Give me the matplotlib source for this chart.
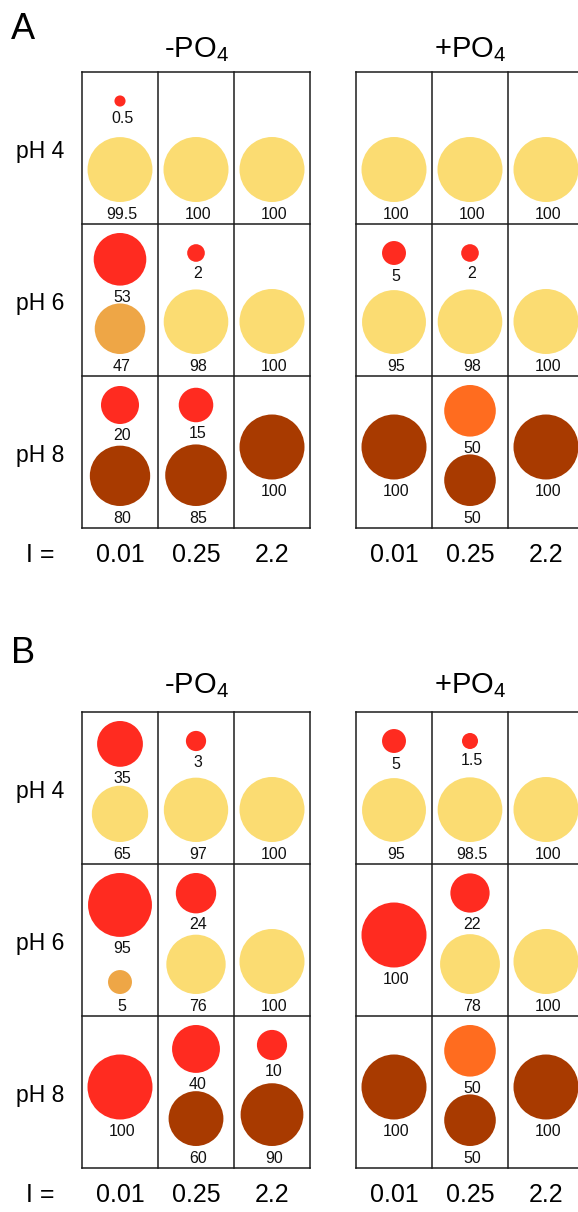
import matplotlib
matplotlib.use('Agg')
from matplotlib import pyplot as plt
from matplotlib.patches import Circle

plt.rcParams['font.family'] = ['Liberation Sans', 'DejaVu Sans']
plt.rcParams['mathtext.fontset'] = 'custom'
plt.rcParams['mathtext.rm'] = 'Liberation Sans'

# --- data -------------------------------------------------------------
ionic = ['0.01', '0.25', '2.2']
ph_rows = ['pH 4', 'pH 6', 'pH 8']
titles = ['-PO$_\\mathregular{4}$', '+PO$_\\mathregular{4}$']

# species colour codes
colours = {'Y': '#fbdc72', 'R': '#ff2b20', 'O': '#eea646',
           'F': '#ff6c1f', 'B': '#a83a00'}

# each cell: list of (percent, species), rows pH 4/6/8, cols I = 0.01/0.25/2.2
a_minus = [[[(0.5, 'R'), (99.5, 'Y')], [(100, 'Y')], [(100, 'Y')]],
           [[(53, 'R'), (47, 'O')], [(2, 'R'), (98, 'Y')], [(100, 'Y')]],
           [[(20, 'R'), (80, 'B')], [(15, 'R'), (85, 'B')], [(100, 'B')]]]
a_plus = [[[(100, 'Y')], [(100, 'Y')], [(100, 'Y')]],
          [[(5, 'R'), (95, 'Y')], [(2, 'R'), (98, 'Y')], [(100, 'Y')]],
          [[(100, 'B')], [(50, 'F'), (50, 'B')], [(100, 'B')]]]
b_minus = [[[(35, 'R'), (65, 'Y')], [(3, 'R'), (97, 'Y')], [(100, 'Y')]],
           [[(95, 'R'), (5, 'O')], [(24, 'R'), (76, 'Y')], [(100, 'Y')]],
           [[(100, 'R')], [(40, 'R'), (60, 'B')], [(10, 'R'), (90, 'B')]]]
b_plus = [[[(5, 'R'), (95, 'Y')], [(1.5, 'R'), (98.5, 'Y')], [(100, 'Y')]],
          [[(100, 'R')], [(22, 'R'), (78, 'Y')], [(100, 'Y')]],
          [[(100, 'B')], [(50, 'F'), (50, 'B')], [(100, 'B')]]]

# --- layout (pixels) --------------------------------------------------
W, H = 578, 1212
grid_left = [82, 356]
col_w = 76
row_h = 152
line_c = '#1c1c1c'


def radius(v):
    # circle diameter grows with cube root of the percentage
    return 32.5 * (v / 100.0) ** (1.0 / 3.0)


def label(ax, x, y, v):
    ax.text(x + 2, y + 6, '{:g}'.format(v), ha='center', va='baseline',
            fontsize=11.5, color='#111111')


def draw_cell(ax, items, cx, top):
    if len(items) == 1:
        v, sp = items[0]
        r = radius(v)
        if sp == 'Y':
            cy = top + 130 - r
            ly = cy + r + 11
        else:
            cy = top + 71
            ly = cy + r + 10
        ax.add_patch(Circle((cx, cy), r, color=colours[sp], lw=0))
        label(ax, cx, ly, v)
        return
    (v1, s1), (v2, s2) = items
    r1 = radius(v1)
    cy1 = top + max(29, r1 + 9)
    ax.add_patch(Circle((cx, cy1), r1, color=colours[s1], lw=0))
    label(ax, cx, cy1 + r1 + 10, v1)
    r2 = radius(v2)
    cy2 = top + 130 - r2
    ax.add_patch(Circle((cx, cy2), r2, color=colours[s2], lw=0))
    label(ax, cx, cy2 + r2 + 11, v2)


def draw_block(ax, cells, x0, y0):
    for i in range(4):
        ax.plot([x0 + i * col_w] * 2, [y0, y0 + 3 * row_h], color=line_c, lw=1.1)
        ax.plot([x0, x0 + 3 * col_w], [y0 + i * row_h] * 2, color=line_c, lw=1.1)
    for r in range(3):
        for c in range(3):
            draw_cell(ax, cells[r][c], x0 + (c + 0.5) * col_w, y0 + r * row_h)


fig = plt.figure(figsize=(W / 100, H / 100), dpi=100)
ax = fig.add_axes([0, 0, 1, 1])
ax.set_xlim(0, W)
ax.set_ylim(H, 0)
ax.axis('off')

# letter, blocks, grid top, letter baseline, title baseline
panels = [('A', [a_minus, a_plus], 72, 39, 57),
          ('B', [b_minus, b_plus], 712, 663, 693)]

for letter, blocks, top, let_y, tit_y in panels:
    ax.text(11, let_y, letter, fontsize=26, va='baseline', ha='left')
    for k, cells in enumerate(blocks):
        x0 = grid_left[k]
        draw_block(ax, cells, x0, top)
        ax.text(x0 + 1.5 * col_w, tit_y, titles[k], fontsize=21,
                ha='center', va='baseline')
        for c, lab in enumerate(ionic):
            ax.text(x0 + (c + 0.5) * col_w, top + 3 * row_h + 34, lab,
                    fontsize=18, ha='center', va='baseline')
    for r, lab in enumerate(ph_rows):
        ax.text(16, top + (r + 0.5) * row_h + 10, lab, fontsize=16.5,
                ha='left', va='baseline')
    ax.text(40, top + 3 * row_h + 34, 'I =', fontsize=18, ha='center',
            va='baseline')

fig.savefig('out.png', dpi=100, facecolor='white')
plt.close()
